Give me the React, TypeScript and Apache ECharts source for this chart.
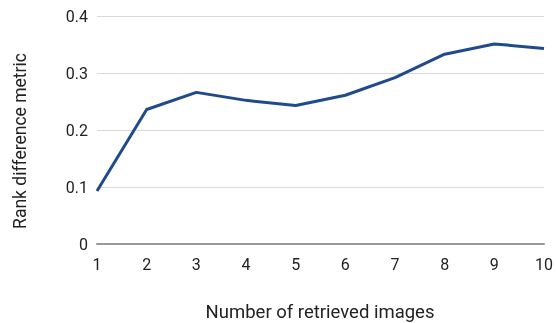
import React, { useEffect, useRef } from "react";
import * as echarts from "echarts";

const xValues = [1, 2, 3, 4, 5, 6, 7, 8, 9, 10];
const yValues = [0.093, 0.236, 0.266, 0.252, 0.243, 0.261, 0.292, 0.333, 0.351, 0.343];
const yTicks = [0, 0.1, 0.2, 0.3, 0.4];
const xTitle = "Number of retrieved images";
const yTitle = "Rank difference metric";

export default function App() {
  const ref = useRef<HTMLDivElement>(null);
  useEffect(() => {
    const chart = echarts.init(ref.current!, null, { renderer: "svg" });
    chart.setOption({
      animation: false,
      grid: { left: 97, right: 11, top: 16, bottom: 79 },
      graphic: [
        {
          type: "text",
          x: 320,
          y: 312,
          style: {
            text: xTitle,
            fontFamily: "Roboto",
            fontSize: 18.5,
            fill: "#222",
            align: "center",
            verticalAlign: "middle",
          },
        },
        {
          type: "text",
          x: 20,
          y: 141,
          rotation: Math.PI / 2,
          style: {
            text: yTitle,
            fontFamily: "Roboto",
            fontSize: 17.5,
            fill: "#222",
            align: "center",
            verticalAlign: "middle",
          },
        },
      ],
      xAxis: {
        type: "value",
        min: 1,
        max: 10,
        interval: 1,
        axisLine: { show: true, onZero: true, lineStyle: { color: "#999", width: 2 } },
        axisTick: { show: false },
        splitLine: { show: false },
        axisLabel: { fontFamily: "Roboto", fontSize: 16, color: "#222", margin: 12 },
      },
      yAxis: {
        type: "value",
        min: 0,
        max: 0.4,
        interval: 0.1,
        axisLine: { show: false },
        axisTick: { show: false },
        splitLine: { lineStyle: { color: "#d9d9d9", width: 1 } },
        axisLabel: {
          fontFamily: "Roboto",
          fontSize: 16,
          color: "#222",
          margin: 9,
          formatter: (v: number) => {
            const t = yTicks.find((x) => Math.abs(x - v) < 1e-9);
            return t === 0 ? "0" : String(Math.round(v * 10) / 10);
          },
        },
      },
      series: [
        {
          type: "line",
          data: xValues.map((x, i) => [x, yValues[i]]),
          showSymbol: false,
          lineStyle: { color: "#1f4a8c", width: 3 },
          itemStyle: { color: "#1f4a8c" },
        },
      ],
    });
    return () => chart.dispose();
  }, []);
  return (
    <div
      ref={ref}
      style={{ position: "fixed", left: 0, top: 0, width: 556, height: 323 }}
    />
  );
}
